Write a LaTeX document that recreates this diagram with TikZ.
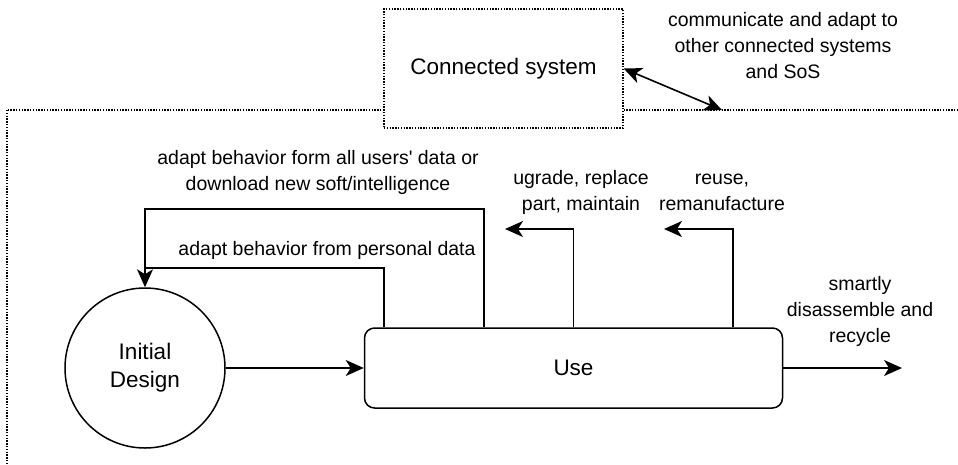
\documentclass[tikz,border=0pt]{standalone}
\usepackage{fontspec}
\setmainfont{Liberation Sans}
\usetikzlibrary{arrows.meta, positioning}

\begin{document}
\begin{tikzpicture}[x=1pt, y=-1pt,
  every node/.style={align=center, font=\fontsize{19.5}{26}\selectfont},
  stage/.style={draw, line width=1.5pt, font=\fontsize{22.5}{28}\selectfont},
  dotbox/.style={draw, line width=1.3pt, dash pattern=on 1.4pt off 1.4pt},
  flow/.style={line width=1.6pt},
  >={Stealth[length=18pt, width=16pt, inset=5pt]}
]
\useasboundingbox (0,0) rectangle (958,464);

% system boundary
\draw[dotbox] (7,110) rectangle (990,500);

\node[stage, circle, minimum size=160pt] (design) at (145,368) {Initial\\Design};
\node[stage, rounded corners=10pt, minimum width=418pt, minimum height=80pt, right=138pt of design] (use) {Use};
\node[dotbox, fill=white, minimum width=239pt, minimum height=119pt, font=\fontsize{22.5}{28}\selectfont] (conn) at (503.5,68.5) {Connected system};

% labels
\node (comm) at (783,46) {communicate and adapt to\\other connected systems\\and SoS};
\node (allusers) at (318,172) {adapt behavior form all users\textquotesingle\ data or\\download new soft/intelligence};
\node (personal) at (327,250) {adapt behavior from personal data};
\node (upgrade) at (581,192) {ugrade, replace\\part, maintain};
\node (reuse) at (722,192) {reuse,\\remanufacture};
\node (smartly) at (860,311) {smartly\\disassemble and\\recycle};

\coordinate (sos) at (722,110);
\coordinate (upg) at (505,229);
\coordinate (reu) at (664,229);
\coordinate (out) at (902,368);

\draw[flow, <->] (conn.east) -- (sos);
\draw[flow, ->] (design) -- (use);
\draw[flow, ->] (use) -- (out);
\draw[flow, ->] ([xshift=120pt]use.north west) |- (design.north |- 0,209) -- (design.north);
\draw[flow] ([xshift=20pt]use.north west) |- (design.north |- 0,268);
\draw[flow, ->] (use.north) |- (upg);
\draw[flow, ->] ([xshift=-50pt]use.north east) |- (reu);

\end{tikzpicture}
\end{document}
